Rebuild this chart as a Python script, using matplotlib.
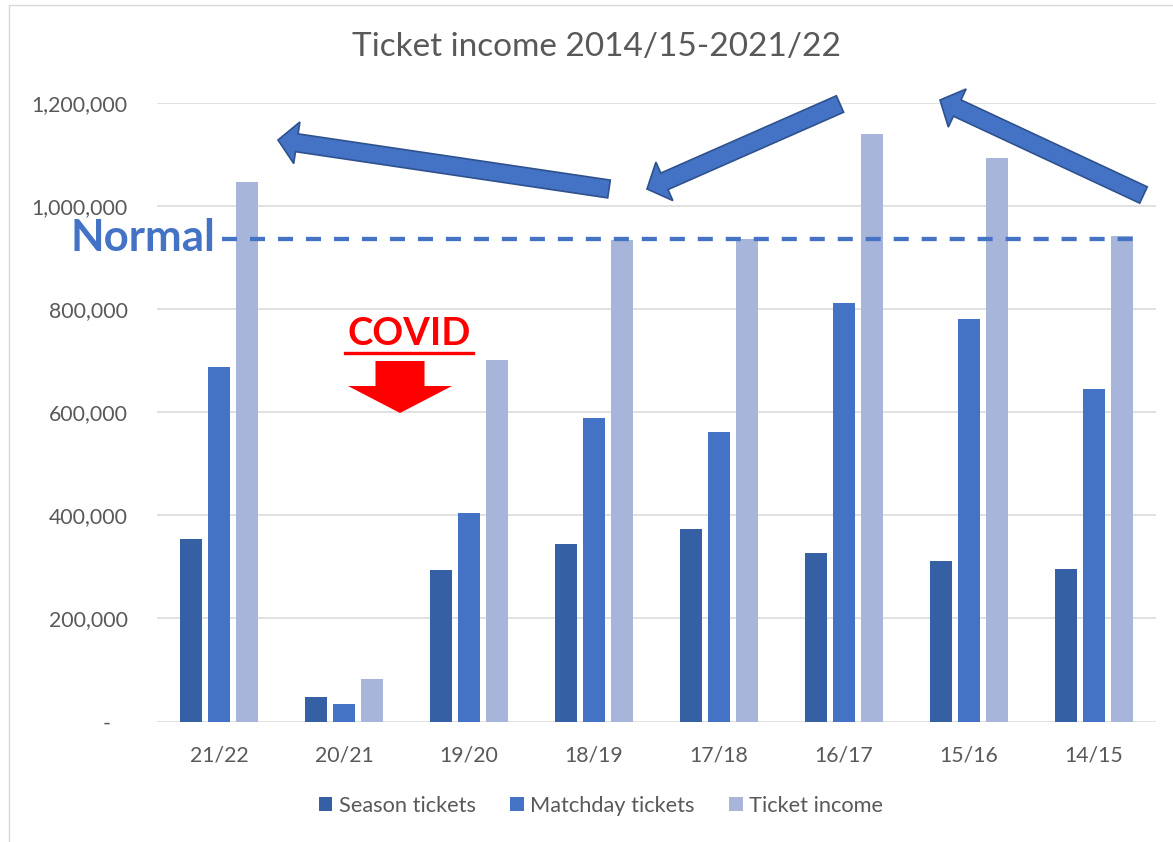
import numpy as np
import matplotlib
matplotlib.use('Agg')
import matplotlib.pyplot as plt
from matplotlib.patches import FancyArrow, Rectangle
from matplotlib.lines import Line2D
from matplotlib.transforms import IdentityTransform

plt.rcParams['font.family'] = ['Lato', 'DejaVu Sans']

# data
seasons = ['21/22', '20/21', '19/20', '18/19', '17/18', '16/17', '15/16', '14/15']
season_tickets = [355000, 48000, 293000, 344000, 373000, 326000, 312000, 295000]
matchday_tickets = [688000, 33000, 405000, 588000, 561000, 812000, 780000, 645000]
ticket_income = [1047000, 83000, 701000, 934000, 936000, 1140000, 1094000, 941000]
normal_level = 936000
yticks = [0, 200000, 400000, 600000, 800000, 1000000, 1200000]

W, H = 1173, 842
GREY = '#595959'
BLUE = '#4472C4'


def px(x, y):
    # image pixel (top-left origin) -> figure fraction
    return x / W, 1 - y / H


fig = plt.figure(figsize=(W / 100, H / 100), dpi=100)
ax = fig.add_axes([157 / W, 1 - 721.5 / H, 999 / W, 618.5 / H])

x = np.arange(len(seasons))
bw, off = 0.176, 0.224
ax.bar(x - off, season_tickets, bw, color='#3560A4', label='Season tickets')
ax.bar(x, matchday_tickets, bw, color=BLUE, label='Matchday tickets')
ax.bar(x + off, ticket_income, bw, color='#A8B5DA', label='Ticket income')

ax.set_xlim(-0.5, len(seasons) - 0.5)
ax.set_ylim(0, 1200000)
ax.set_yticks(yticks)
ax.set_yticklabels([f'{v:,}' if v else '-   ' for v in yticks])
ax.set_xticks(x, seasons)
ax.tick_params(length=0, labelsize=15.3, labelcolor=GREY)
ax.tick_params(axis='y', pad=21)
ax.tick_params(axis='x', pad=17)
for s in ax.spines.values():
    s.set_visible(False)
ax.grid(axis='y', color='#D9D9D9', lw=1.1)
ax.set_axisbelow(True)

# "normal" level
ax.axhline(normal_level, xmin=65 / 999, xmax=976 / 999, color=BLUE, lw=3.1,
           dashes=(3.5, 3.0), zorder=3)

fig.text(*px(596, 56), 'Ticket income 2014/15-2021/22', ha='center', va='baseline',
         fontsize=24, color=GREY)
fig.text(*px(70, 250.7), 'Normal', ha='left', va='baseline', fontsize=31.5,
         fontweight='bold', color=BLUE)
fig.text(*px(409.5, 345), 'COVID', ha='center', va='baseline', fontsize=27.5,
         fontweight='bold', color='red')
fig.add_artist(Line2D([345 / W, 473 / W], [1 - 352.7 / H] * 2, color='red', lw=2.4))

# red arrow under COVID
fig.add_artist(FancyArrow(400, H - 361, 0, -52, width=49, head_width=104, head_length=27,
                          length_includes_head=True, fc='red', ec='none', lw=0,
                          transform=IdentityTransform()))

# blue trend arrows (tail -> tip, image pixels)
blue_arrows = [((609, 189), (278, 140)),
               ((840, 104), (647, 189)),
               ((1143.5, 195), (940, 100))]
for (x0, y0), (x1, y1) in blue_arrows:
    fig.add_artist(FancyArrow(x0, H - y0, x1 - x0, -(y1 - y0), width=18, head_width=42,
                              head_length=19, length_includes_head=True, fc=BLUE,
                              ec='#2F528F', lw=1.2, transform=IdentityTransform()))

# chart area border
fig.add_artist(Rectangle((8.5, -50), 1300, H - 4.5 + 50, fill=False, ec='#D9D9D9', lw=1,
                         transform=IdentityTransform()))

fig.legend(loc='center', bbox_to_anchor=px(601, 806), ncol=3, frameon=False, fontsize=15.7,
           handlelength=0.6, handleheight=0.6, handletextpad=0.3, columnspacing=1.6,
           labelcolor=GREY)

fig.savefig('out.png', dpi=100, facecolor='white')
